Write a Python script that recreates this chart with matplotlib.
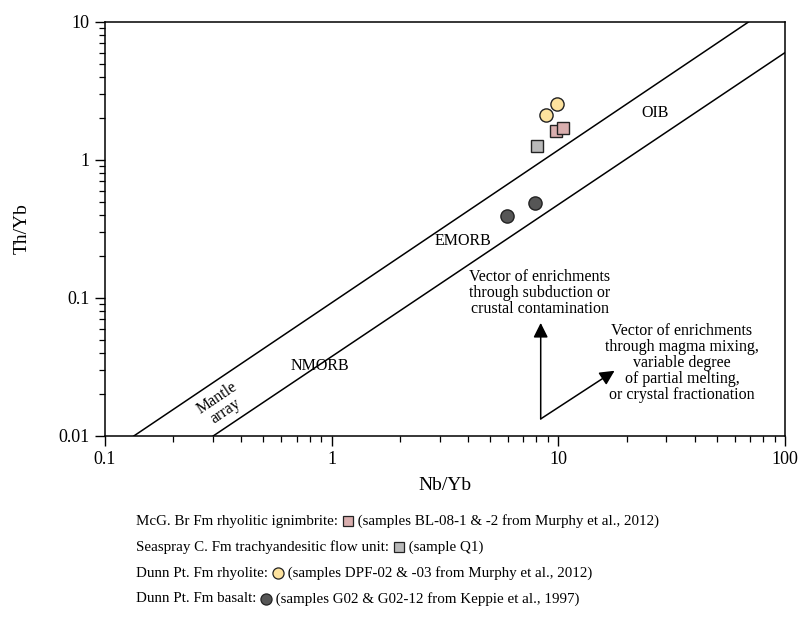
import matplotlib
matplotlib.use("Agg")
import matplotlib.pyplot as plt
from matplotlib.lines import Line2D

plt.rcParams["font.family"] = ["Liberation Serif", "DejaVu Serif"]

# boundary lines of the mantle array (Nb/Yb, Th/Yb)
upper_x = [0.134, 69.0]
upper_y = [0.01, 10.0]
lower_x = [0.30, 100.0]
lower_y = [0.01, 6.0]

# samples
mcg_x = [9.74, 10.46]
mcg_y = [1.62, 1.70]
sea_x = [8.03]
sea_y = [1.26]
dpf_x = [8.79, 9.84]
dpf_y = [2.11, 2.54]
g02_x = [5.92, 7.87]
g02_y = [0.39, 0.49]

# enrichment vectors
vec_tail = (8.36, 0.0133)
vec_up = (8.36, 0.066)
vec_diag = (17.7, 0.0297)

fig = plt.figure(figsize=(7.98, 6.39), dpi=100)
ax = fig.add_axes([105 / 798, 1 - 436 / 639, 680 / 798, 414 / 639])

ax.plot(upper_x, upper_y, color="black", lw=1.1)
ax.plot(lower_x, lower_y, color="black", lw=1.1)

pink, grey, yellow, dark = "#d9aeae", "#b9b9b9", "#fde29e", "#565656"
ax.plot(mcg_x, mcg_y, "s", ms=8, mfc=pink, mec="#222222", mew=1, ls="none")
ax.plot(sea_x, sea_y, "s", ms=8, mfc=grey, mec="#222222", mew=1, ls="none")
ax.plot(dpf_x, dpf_y, "o", ms=9.5, mfc=yellow, mec="#222222", mew=1, ls="none")
ax.plot(g02_x, g02_y, "o", ms=9.5, mfc=dark, mec="#222222", mew=1, ls="none")

arrow = dict(arrowstyle="-|>", mutation_scale=22, lw=1.1, color="black", shrinkA=0, shrinkB=0)
ax.annotate("", xy=vec_up, xytext=vec_tail, arrowprops=arrow)
ax.annotate("", xy=vec_diag, xytext=vec_tail, arrowprops=arrow)

ax.text(0.325, 0.0168, "Mantle\narray", rotation=34, ha="center", va="center",
        fontsize=11.5, linespacing=0.95, rotation_mode="anchor")
ax.text(0.887, 0.032, "NMORB", ha="center", va="center", fontsize=11.5)
ax.text(3.79, 0.258, "EMORB", ha="center", va="center", fontsize=11.5)
ax.text(26.7, 2.19, "OIB", ha="center", va="center", fontsize=11.5)
ax.text(8.3, 0.108, "Vector of enrichments\nthrough subduction or\ncrustal contamination",
        ha="center", va="center", fontsize=11.5, linespacing=1.0)
ax.text(35.1, 0.0336, "Vector of enrichments\nthrough magma mixing,\nvariable degree\n"
        "of partial melting,\nor crystal fractionation",
        ha="center", va="center", fontsize=11.5, linespacing=1.0)

ax.set_xscale("log")
ax.set_yscale("log")
ax.set_xlim(0.1, 100)
ax.set_ylim(0.01, 10)
ax.set_xticks([0.1, 1, 10, 100], ["0.1", "1", "10", "100"])
ax.set_yticks([0.01, 0.1, 1, 10], ["0.01", "0.1", "1", "10"])
ax.tick_params(which="major", direction="out", length=7, width=1, labelsize=13, pad=4)
ax.tick_params(which="minor", direction="out", length=4, width=0.9)
for s in ax.spines.values():
    s.set_linewidth(1.1)

ax.set_xlabel("Nb/Yb", fontsize=14, labelpad=6)
ax.set_ylabel("Th/Yb", fontsize=14, labelpad=20)

# legend lines below the plot
legend_rows = [
    ("McG. Br Fm rhyolitic ignimbrite: ", "s", pink,
     " (samples BL-08-1 & -2 from Murphy et al., 2012)"),
    ("Seaspray C. Fm trachyandesitic flow unit: ", "s", grey, " (sample Q1)"),
    ("Dunn Pt. Fm rhyolite: ", "o", yellow, " (samples DPF-02 & -03 from Murphy et al., 2012)"),
    ("Dunn Pt. Fm basalt: ", "o", dark, " (samples G02 & G02-12 from Keppie et al., 1997)"),
]
row_y = [521, 547, 573, 599]

fig.canvas.draw()
renderer = fig.canvas.get_renderer()
W, H = fig.bbox.width, fig.bbox.height
for (pre, mk, col, post), py in zip(legend_rows, row_y):
    yf = 1 - py / 639
    t = fig.text(136 / 798, yf, pre, fontsize=10.8, va="center", ha="left")
    bb = t.get_window_extent(renderer)
    mx = bb.x1 + 6
    fig.add_artist(Line2D([mx / W], [yf], marker=mk, ms=7.5 if mk == "s" else 8,
                          mfc=col, mec="#222222", mew=0.9, ls="none",
                          transform=fig.transFigure))
    fig.text((mx + 6) / W, yf, post, fontsize=10.8, va="center", ha="left")

fig.savefig("out.png", dpi=100)
